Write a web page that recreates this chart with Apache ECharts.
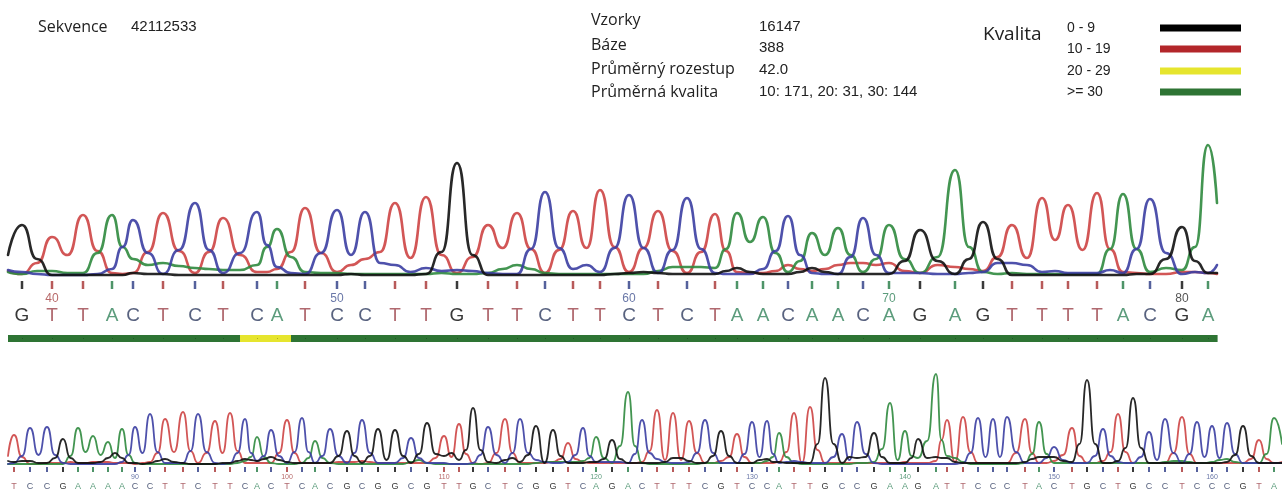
<!DOCTYPE html>
<html><head><meta charset="utf-8">
<script src="https://cdn.jsdelivr.net/npm/echarts@6/dist/echarts.min.js"></script>
<style>html,body{margin:0;padding:0;background:#fff;}#c{width:1282px;height:492px;}</style>
</head><body><div id="c"></div>
<script>
// ---------- header texts ----------
const seqLabel = ['Sekvence', '42112533'];
const infoLabels = ['Vzorky', 'Báze', 'Průměrný rozestup', 'Průměrná kvalita'];
const infoValues = ['16147', '388', '42.0', '10: 171, 20: 31, 30: 144'];
const qualTitle = 'Kvalita';
const qualLabels = ['0 - 9', '10 - 19', '20 - 29', '>= 30'];
const qualColors = ['#000000', '#b3262a', '#e6e52e', '#2e7434'];

// ---------- top panel (bases 39..81) ----------
const topStart = 39;
const topRange = [8, 1217];
const topSeq = 'GTTACTCTCATCCTTGTTCTTCTCTAACAACAGAGTTTTACGA'.split('');
const topPos = [22,52,83,112,133,163,195,223,257,277, 305,337,365,395,426,457,488,517,545,573, 600,629,658,687,715,737,763,788,812,838, 863,889,920,955,983,1012,1042,1068,1097,1123, 1150,1182,1208];
const topQual = [40,40,40,40,40,40,40,40,25,25, 40,40,40,40,40,40,40,40,40,40, 40,40,40,40,40,40,40,40,40,40, 40,40,40,40,40,40,40,40,40,40, 40,40,40];
const topAPeak = [3,6,4,62,18,14,9,7,12,48, 5,4,3,3,3,3,4,12,4,3, 3,3,6,10,9,64,60,5,44,49, 5,52,4,107,5,4,3,3,3,83, 5,7,132];
const topATrough = [5, 6,4,24,30,12,11,8,7,30,20, 4,3,3,3,4,3,8,8,3,3, 3,3,10,10,28,35,24,16,22,22, 18,18,20,30,3,3,3,3,28,28, 9,30, 74];
const topCPeak = [5,2,2,8,57,3,74,4,65,10, 3,67,65,12,9,7,4,3,85,8, 5,82,4,79,4,3,8,61,4,3, 59,4,4,3,5,14,5,4,4,4, 78,3,4];
const topCTrough = [7, 3,2,3,30,24,27,27,24,32,4, 24,22,14,5,6,6,3,28,29,12, 29,29,27,28,3,3,26,22,3,20, 22,4,3,4,14,12,6,4,7,28, 24,5, 12];
const topGPeak = [52,2,2,2,4,3,2,2,2,2, 2,2,2,2,3,114,2,2,2,2, 2,4,4,3,3,9,3,3,9,3, 3,3,47,3,55,2,2,2,2,2, 3,50,4];
const topGTrough = [22, 18,2,2,2,3,2,2,2,2,2, 2,3,2,2,25,22,2,2,2,2, 3,5,3,3,6,5,3,5,5,3, 3,16,16,18,18,2,2,2,2,3, 18,16, 4];
const topTPeak = [3,40,62,4,4,64,4,59,5,8, 69,5,18,74,80,4,52,64,4,66, 87,5,66,4,63,5,4,12,6,12, 14,14,4,10,6,52,79,72,84,5, 3,5,4];
const topTTrough = [6, 14,22,26,3,25,26,25,22,5,25, 24,12,25,19,22,20,29,28,27,29, 30,29,26,25,26,4,6,8,8,14, 12,6,12,8,20,19,37,27,28,4, 3,5, 3];

// ---------- bottom panel (bases 82..164) ----------
const botStart = 82;
const botRange = [8, 1282];
const botSeq = 'TCCGAAAACCTTCTTCACTCACGCGGCGTTGCTCGGTCAGACTTTCGTCCATTGCCGAAGATTCCCTACTGCTGCCTCCCGTA'.split('');
const botPos = [14,30,47,63,78,93,108,122,135,150, 165,183,198,215,230,245,257,271,287,302, 315,330,347,362,378,395,411,427,444,459, 473,488,505,520,536,553,568,583,596,612, 628,642,657,673,689,705,721,737,752,767, 779,794,810,825,842,857,874,890,905,918, 936,947,963,978,993,1007,1025,1039,1054,1072, 1087,1103,1118,1133,1149,1165,1182,1197,1212,1227, 1243,1259,1274];
const botAPeak = [2,2,2,2,38,30,24,37,3,2, 2,2,2,2,2,5,29,3,2,3, 25,3,2,2,2,2,4,3,2,2, 2,2,2,2,3,4,4,5,29,3, 74,3,2,2,2,3,3,3,3,5, 33,3,2,2,2,3,4,63,35,8, 92,10,4,2,2,2,3,44,3,3, 3,3,3,3,3,4,5,3,4,7, 3,3,48];
const botATrough = [2, 2,2,2,10,14,11,8,11,2,2, 2,2,2,2,3,9,9,2,2,8, 8,2,2,2,2,2,6,2,2,2, 2,2,2,2,4,4,4,8,8,20, 20,2,2,2,2,3,3,3,3,9, 9,2,2,2,2,3,17,6,10,25, 26,8,2,2,2,2,12,12,3,3, 3,3,3,3,3,5,4,3,6,4, 3,12, 22];
const botCPeak = [3,38,39,3,2,2,2,4,39,52, 3,3,52,3,3,47,5,36,3,48, 3,37,3,46,3,3,28,3,3,2, 3,39,3,47,6,3,4,38,4,4, 3,46,7,3,4,46,3,3,44,45, 3,5,3,3,32,44,3,2,2,2, 2,2,3,48,47,49,3,3,19,3, 3,37,4,3,34,47,3,44,40,43, 3,3,3];
const botCTrough = [2, 10,11,11,2,2,2,2,11,13,14, 3,15,14,2,13,13,10,10,14,14, 10,10,13,13,3,8,8,3,2,2, 11,11,13,13,4,3,11,10,4,4, 12,13,4,3,13,13,3,12,9,12, 4,4,3,9,6,12,2,2,2,2, 2,2,13,9,9,14,3,8,6,3, 10,10,3,9,6,13,12,9,8,12, 3,3, 3];
const botGPeak = [4,5,3,27,3,3,8,8,3,3, 7,3,2,2,3,7,5,9,4,3, 3,3,35,3,37,36,3,43,10,6, 58,4,6,4,40,36,3,3,4,26, 3,3,3,8,5,3,35,3,3,7, 4,3,3,88,3,8,33,3,3,27, 9,8,3,3,3,3,4,9,9,4, 86,3,5,68,3,3,3,3,3,4, 40,3,3];
const botGTrough = [5, 5,3,8,8,3,4,13,3,2,5, 4,2,2,3,5,6,7,6,3,3, 3,10,10,10,6,10,12,12,13,16, 16,3,8,11,3,10,3,4,7,7, 3,3,4,8,3,10,10,3,6,4, 3,3,22,22,9,9,9,3,8,8, 8,4,3,3,3,3,7,9,5,22, 22,3,18,18,3,3,3,3,3,11, 10,3, 3];
const botTPeak = [31,2,3,3,3,4,4,3,2,4, 47,54,3,45,53,3,3,3,46,3, 3,3,4,5,3,3,3,3,30,42, 3,3,47,3,3,4,23,4,3,3, 3,4,56,53,45,3,5,32,3,3, 4,53,59,3,3,3,3,3,4,3, 5,46,49,3,3,3,47,3,5,38, 3,5,52,3,3,3,49,3,3,3, 3,26,3];
const botTTrough = [10, 9,2,3,4,3,4,3,3,3,13, 14,15,13,13,15,3,3,13,13,3, 3,4,4,4,3,3,3,8,9,12, 2,13,13,3,3,7,7,3,3,3, 3,15,6,6,13,3,9,9,3,3, 14,3,16,3,3,3,3,3,3,3, 26,4,14,3,3,13,13,3,11,10, 3,14,14,3,3,13,12,3,3,3, 7,7, 4];

// ---------- styles ----------
const traceColor = {A: '#2f8a3e', C: '#3b3ea2', G: '#111111', T: '#cd4444'};
const tickColor = {A: '#4e9468', C: '#55619c', G: '#3a3a3a', T: '#b85a5a'};
const letterColor = {A: '#5c9c7c', C: '#58627f', G: '#383838', T: '#b0696f'};
const numColor = {A: '#5c9c7c', C: '#6a78a8', G: '#555555', T: '#b86a6a'};

function trace(pos, pk, tr, range) {
  const pts = [[range[0], tr[0]]];
  for (let i = 0; i < pos.length; i++) {
    pts.push([pos[i], pk[i]]);
    if (i < pos.length - 1) pts.push([(pos[i] + pos[i + 1]) / 2, tr[i + 1]]);
  }
  pts.push([range[1], tr[pos.length]]);
  return pts;
}

function lineSeries(idx, base, data, width) {
  return {
    type: 'line', xAxisIndex: idx, yAxisIndex: idx, data: data,
    showSymbol: false, symbol: 'none', smooth: 0.6, smoothMonotone: 'x',
    lineStyle: {color: traceColor[base], width: width, opacity: 0.9, cap: 'round', join: 'round'},
    silent: true, animation: false, z: base === 'G' ? 4 : 3
  };
}

function annotSeries(idx, pos, seq, start, cfg) {
  return {
    type: 'custom', xAxisIndex: idx, yAxisIndex: idx, silent: true, animation: false, clip: false,
    data: pos.map((p, i) => [p, i]),
    renderItem: function (params, api) {
      const i = api.value(1);
      const pt = api.coord([api.value(0), 0]);
      const b = seq[i];
      const ch = [
        {type: 'rect', shape: {x: pt[0] - cfg.tw / 2, y: pt[1] + cfg.t0, width: cfg.tw, height: cfg.th}, style: {fill: tickColor[b]}},
        {type: 'text', x: pt[0], y: pt[1] + cfg.ly, style: {text: b, fontSize: cfg.lf, fontFamily: 'Liberation Sans', fill: letterColor[b], align: 'center', verticalAlign: 'middle'}}
      ];
      if ((start + i) % 10 === 0) {
        ch.push({type: 'text', x: pt[0], y: pt[1] + cfg.ny, style: {text: String(start + i), fontSize: cfg.nf, fontFamily: 'Liberation Sans', fill: numColor[b], align: 'center', verticalAlign: 'middle'}});
      }
      return {type: 'group', children: ch};
    }
  };
}

function qualColor(q) { return q < 10 ? qualColors[0] : q < 20 ? qualColors[1] : q < 30 ? qualColors[2] : qualColors[3]; }

const qualSeries = {
  type: 'custom', xAxisIndex: 0, yAxisIndex: 0, silent: true, animation: false, clip: false,
  data: topPos.map((p, i) => [p, i, topQual[i]]),
  renderItem: function (params, api) {
    const i = api.value(1);
    const l = i === 0 ? topRange[0] : (topPos[i - 1] + topPos[i]) / 2;
    const r = i === topPos.length - 1 ? topRange[1] : (topPos[i] + topPos[i + 1]) / 2;
    const x1 = Math.round(api.coord([l, 0])[0]);
    const x2 = Math.round(api.coord([r, 0])[0]);
    const y = Math.round(api.coord([l, 0])[1]) + 58;
    return {type: 'group', children: [
      {type: 'rect', shape: {x: x1, y: y, width: x2 - x1 + 0.6, height: 7}, style: {fill: qualColor(api.value(2))}},
      {type: 'rect', shape: {x: Math.round(api.coord([api.value(0), 0])[0]), y: y + 3, width: 1, height: 1}, style: {fill: 'rgba(0,0,0,0.25)'}}
    ]};
  }
};

const series = [];
['T', 'A', 'C', 'G'].forEach(b => {
  const tp = {A: topAPeak, C: topCPeak, G: topGPeak, T: topTPeak}[b];
  const tt = {A: topATrough, C: topCTrough, G: topGTrough, T: topTTrough}[b];
  series.push(lineSeries(0, b, trace(topPos, tp, tt, topRange), 2.6));
});
['T', 'A', 'C', 'G'].forEach(b => {
  const bp = {A: botAPeak, C: botCPeak, G: botGPeak, T: botTPeak}[b];
  const bt = {A: botATrough, C: botCTrough, G: botGTrough, T: botTTrough}[b];
  series.push(lineSeries(1, b, trace(botPos, bp, bt, botRange), 1.8));
});
series.push(annotSeries(0, topPos, topSeq, topStart, {tw: 2.5, t0: 4, th: 8, ly: 39, lf: 19, ny: 22, nf: 12}));
series.push(annotSeries(1, botPos, botSeq, botStart, {tw: 2, t0: 1, th: 5, ly: 21, lf: 9, ny: 11, nf: 7}));
series.push(qualSeries);

// ---------- header graphics ----------
const labFont = '"Open Sans", "Noto Sans", sans-serif';
const valFont = '"Liberation Sans", Arial, sans-serif';
const graphic = [];
graphic.push({type: 'text', x: 38, y: 27, style: {text: seqLabel[0], font: '16px ' + labFont, fill: '#222', verticalAlign: 'middle'}});
graphic.push({type: 'text', x: 131, y: 27, style: {text: seqLabel[1], font: '15px ' + valFont, fill: '#222', verticalAlign: 'middle'}});
const labY = [20, 45, 69, 92];
const valY = [27, 48, 70, 92];
infoLabels.forEach((t, i) => graphic.push({type: 'text', x: 591, y: labY[i], style: {text: t, font: '16px ' + labFont, fill: '#222', verticalAlign: 'middle'}}));
infoValues.forEach((t, i) => graphic.push({type: 'text', x: 759, y: valY[i], style: {text: t, font: '15px ' + valFont, fill: '#222', verticalAlign: 'middle'}}));
graphic.push({type: 'text', x: 983, y: 35, style: {text: qualTitle, font: '19px ' + labFont, fill: '#222', verticalAlign: 'middle'}});
const legY = [28, 49, 71, 92];
qualLabels.forEach((t, i) => {
  graphic.push({type: 'text', x: 1067, y: legY[i], style: {text: t, font: '14px ' + valFont, fill: '#222', verticalAlign: 'middle'}});
  graphic.push({type: 'rect', shape: {x: 1160, y: legY[i] - 3.5, width: 81, height: 7}, style: {fill: qualColors[i]}});
});

const chart = echarts.init(document.getElementById('c'), null, {renderer: 'canvas'});
chart.setOption({
  animation: false,
  backgroundColor: '#ffffff',
  grid: [
    {left: 8, width: 1209, top: 137, height: 140},
    {left: 8, width: 1274, top: 360, height: 106}
  ],
  xAxis: [
    {type: 'value', gridIndex: 0, min: topRange[0], max: topRange[1], show: false},
    {type: 'value', gridIndex: 1, min: botRange[0], max: botRange[1], show: false}
  ],
  yAxis: [
    {type: 'value', gridIndex: 0, min: 0, max: 140, show: false},
    {type: 'value', gridIndex: 1, min: 0, max: 106, show: false}
  ],
  graphic: graphic,
  series: series
});
</script>
</body></html>
